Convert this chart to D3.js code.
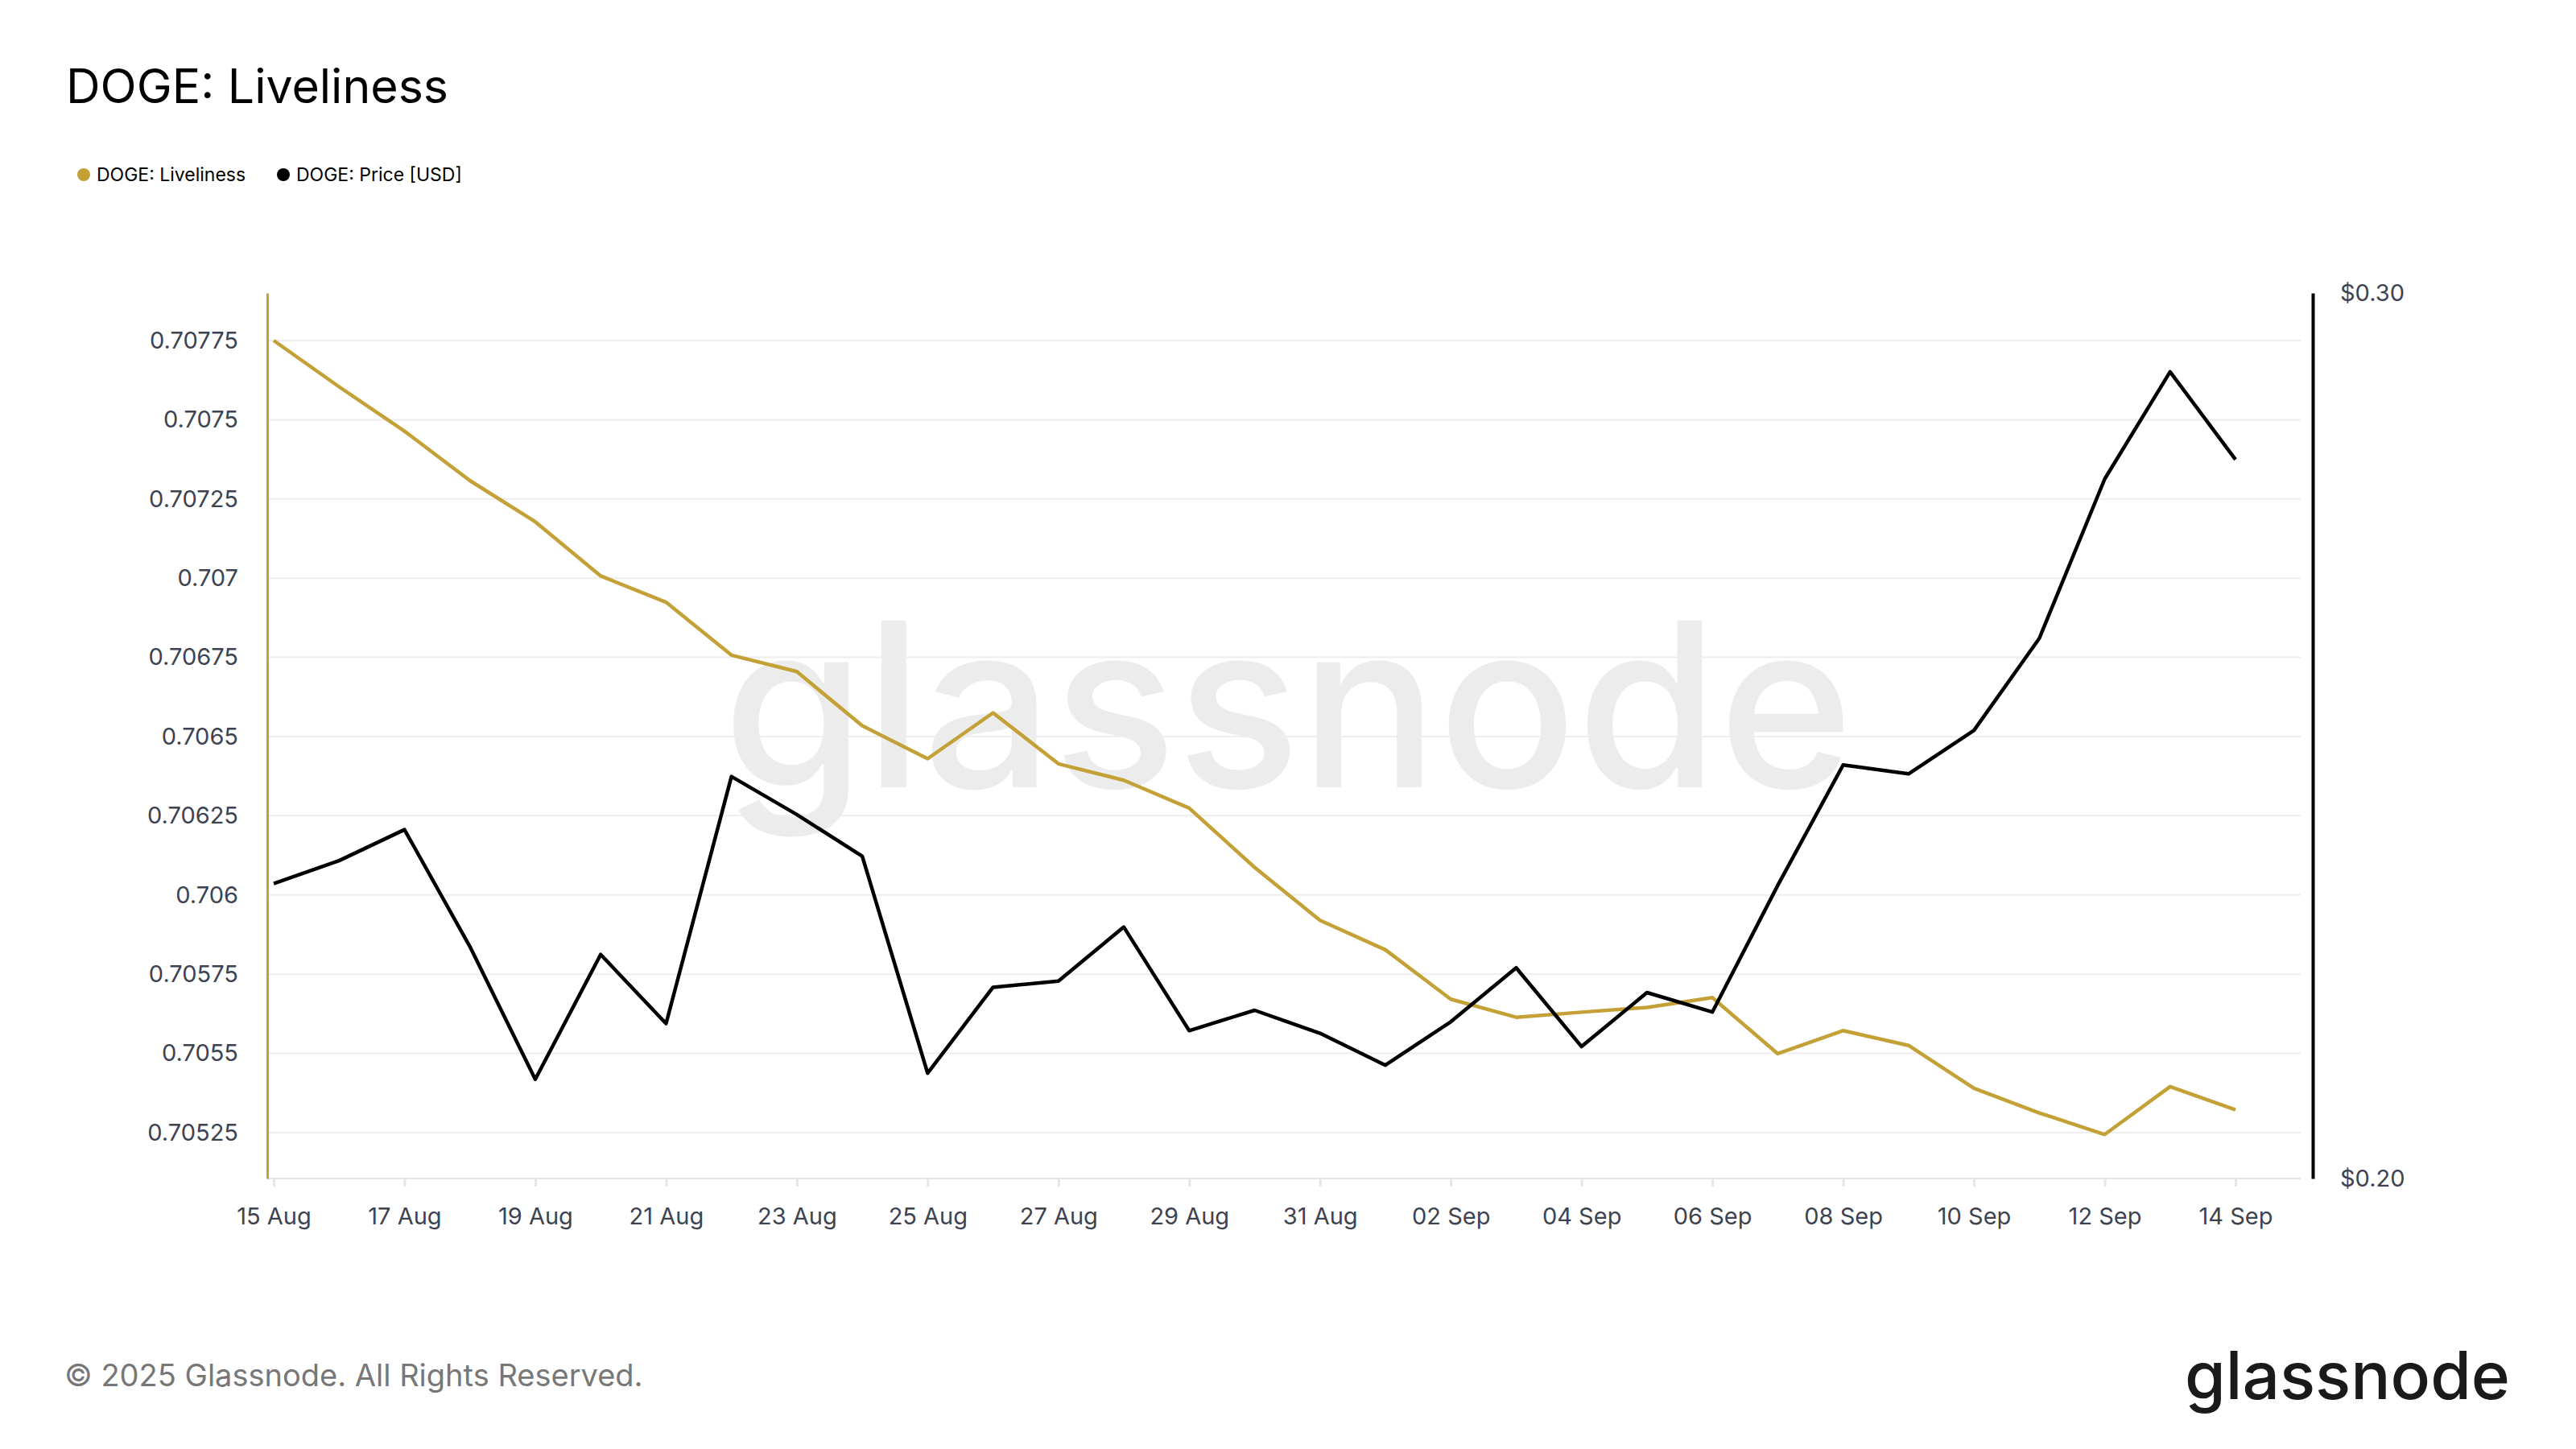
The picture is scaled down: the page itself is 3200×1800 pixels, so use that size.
<!DOCTYPE html>
<html><head><meta charset="utf-8">
<script src="https://cdn.jsdelivr.net/npm/d3@7"></script>
<style>body{margin:0;background:#fff}text{font-family:Inter,"Noto Sans",sans-serif}</style>
</head><body><svg id="c" width="3200" height="1800"></svg>
<script>
const startDate = "2025-08-15";
const liveliness = [0.70775,0.707604,0.707464,0.707308,0.707178,0.707007,0.706924,0.706757,0.706705,0.706534,0.70643,0.706575,0.706414,0.706362,0.706274,0.706087,0.70592,0.705827,0.705671,0.705614,0.70563,0.705645,0.705676,0.705499,0.705572,0.705525,0.70539,0.705312,0.705244,0.705395,0.705322];
const price = [0.2333,0.2359,0.2394,0.2262,0.2112,0.2253,0.2175,0.2454,0.2411,0.2364,0.2119,0.2216,0.2223,0.2284,0.2167,0.2190,0.2164,0.2128,0.2177,0.2238,0.2149,0.2210,0.2188,0.2331,0.2467,0.2457,0.2506,0.2610,0.2790,0.2911,0.2812];
const leftTicks = [0.70525,0.7055,0.70575,0.706,0.70625,0.7065,0.70675,0.707,0.70725,0.7075,0.70775];
const leftTickLabels = ["0.70525","0.7055","0.70575","0.706","0.70625","0.7065","0.70675","0.707","0.70725","0.7075","0.70775"];
const rightTicks = [0.20,0.30];

const svg = d3.select("#c");
const gold = "#c3a137";
const parse = d3.utcParse("%Y-%m-%d");
const d0 = parse(startDate);
const dates = liveliness.map((_, i) => d3.utcDay.offset(d0, i));
const L = 332, R = 2873, T = 364, B = 1464;
const x = d3.scaleUtc().domain([dates[0], dates[dates.length-1]]).range([340, 2777]);
const yL = d3.scaleLinear().domain([0.705105, 0.7079]).range([B, T]);
const yR = d3.scaleLinear().domain([0.20, 0.30]).range([B, T]);

svg.append("text").attr("x",1600).attr("y",978).attr("text-anchor","middle")
  .attr("font-size",285).attr("font-weight",500).attr("fill","#000").attr("opacity",0.07).text("glassnode");

svg.append("g").selectAll("line").data(leftTicks).join("line")
  .attr("x1",L).attr("x2",2858).attr("y1",d=>yL(d)).attr("y2",d=>yL(d))
  .attr("stroke","#eeeeee").attr("stroke-width",2);
svg.append("line").attr("x1",L).attr("x2",2858).attr("y1",B).attr("y2",B).attr("stroke","#e6e6e6").attr("stroke-width",2);

const gl = svg.append("g").attr("transform",`translate(${L},0)`)
  .call(d3.axisLeft(yL).tickValues(leftTicks).tickFormat((d,i)=>leftTickLabels[i]).tickSize(0).tickPadding(36));
gl.select(".domain").attr("stroke",gold).attr("stroke-width",3);
gl.selectAll("text").attr("font-size",29).attr("fill","#3d4350");

const gr = svg.append("g").attr("transform",`translate(${R},0)`)
  .call(d3.axisRight(yR).tickValues(rightTicks).tickFormat(d=>"$"+d.toFixed(2)).tickSize(0).tickPadding(34));
gr.select(".domain").attr("stroke","#000").attr("stroke-width",4);
gr.selectAll("text").attr("font-size",29).attr("fill","#3d4350");

const xt = dates.filter((d,i)=>i%2===0);
const gx = svg.append("g").attr("transform",`translate(0,${B})`)
  .call(d3.axisBottom(x).tickValues(xt).tickFormat(d3.utcFormat("%d %b")).tickSize(10).tickPadding(26));
gx.select(".domain").remove();
gx.selectAll("line").attr("stroke","#e6e6e6").attr("stroke-width",3);
gx.selectAll("text").attr("font-size",29).attr("fill","#3d4350");

svg.append("path").datum(liveliness).attr("fill","none").attr("stroke",gold).attr("stroke-width",4.5)
  .attr("stroke-linejoin","round")
  .attr("d", d3.line().x((d,i)=>x(dates[i])).y(d=>yL(d)));
svg.append("path").datum(price).attr("fill","none").attr("stroke","#000").attr("stroke-width",4.5)
  .attr("stroke-linejoin","round")
  .attr("d", d3.line().x((d,i)=>x(dates[i])).y(d=>yR(d)));

svg.append("text").attr("x",82).attr("y",128).attr("font-size",59).attr("fill","#000").text("DOGE: Liveliness");
const leg = [{n:"DOGE: Liveliness",c:gold,x:104},{n:"DOGE: Price [USD]",c:"#000",x:352}];
leg.forEach(l=>{
  svg.append("circle").attr("cx",l.x).attr("cy",217).attr("r",8).attr("fill",l.c);
  svg.append("text").attr("x",l.x+16).attr("y",225).attr("font-size",23).attr("fill","#000").text(l.n);
});
svg.append("text").attr("x",80).attr("y",1722).attr("font-size",38).attr("fill","#777").text("© 2025 Glassnode. All Rights Reserved.");
svg.append("text").attr("x",3118).attr("y",1738).attr("text-anchor","end").attr("font-size",82).attr("font-weight",500).attr("fill","#1a1a1a").text("glassnode");
</script></body></html>
